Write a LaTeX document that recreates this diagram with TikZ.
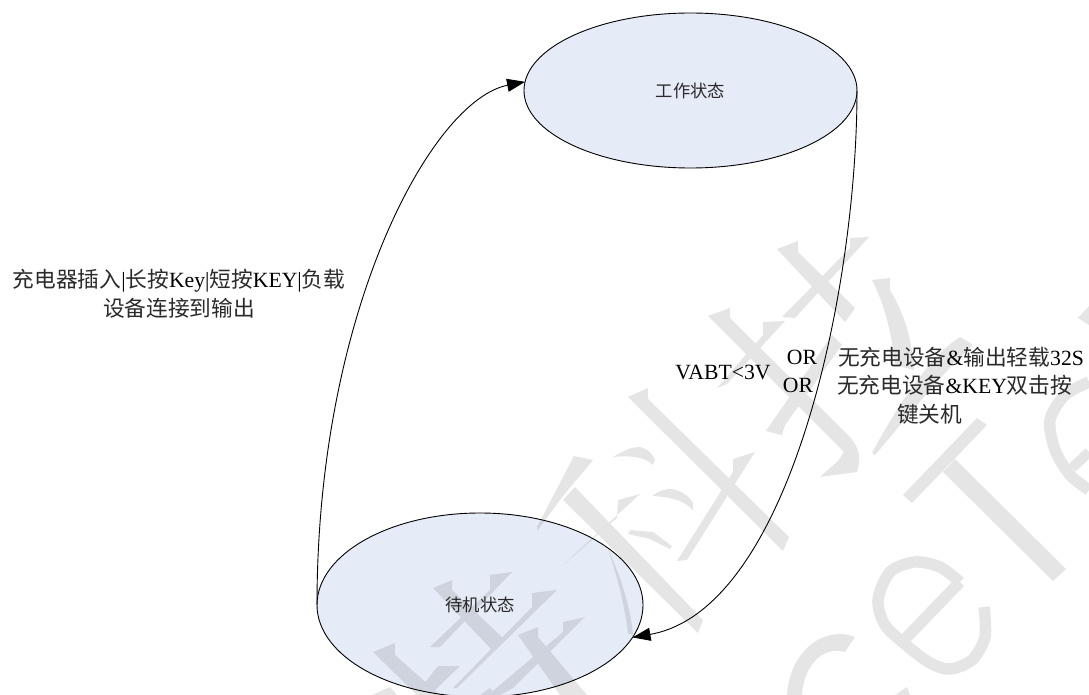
\documentclass[tikz,border=0pt]{standalone}
\usepackage{fontspec}
\setmainfont{Liberation Serif}
\newfontfamily\cjk{Noto Sans CJK SC}
\usetikzlibrary{shapes.geometric,arrows.meta}
\definecolor{statefill}{HTML}{E6ECF7}
\definecolor{cjkink}{HTML}{2A2A2A}
\newcommand{\zh}[1]{{\cjk\color{cjkink}#1}}
\tikzset{
  statenode/.style={ellipse,draw=black,line width=0.9pt,fill=statefill,inner sep=0pt,outer sep=0pt,font=\fontsize{17.3}{20}\selectfont},
  lbl/.style={inner sep=0pt,outer sep=0pt,font=\fontsize{21.7}{29}\selectfont},
  flow/.style={draw=black,line width=0.9pt,-{Triangle[length=18pt,width=13pt]},shorten >=0pt},
  wmthick/.style={draw=black,line width=11.5pt,line cap=butt}
}
\begin{document}
\begin{tikzpicture}[x=1pt,y=-1pt]
\useasboundingbox (0,0) rectangle (1089,695);
\fill[white] (0,0) rectangle (1089,695);
\node[statenode,minimum width=333pt,minimum height=155pt] (work) at (690.5,90.5) {\zh{工作状态}};
\node[statenode,minimum width=326pt,minimum height=184pt] (wait) at (480,605) {\zh{待机状态}};
% watermark
\begin{scope}[transparency group,opacity=0.1]
\fill (574,456)--(593,460)--(563,496)--(537,531)--(537,527)--cycle;
\fill (628,397)--(648,388)--(648,399)--(789,537)--(783,551)--cycle;
\fill (733,459)--(755,452)--(687,560)--(677,561)--(733,472)--cycle;
\fill (613,457) .. controls (625,450) and (632,447) .. (640,447) .. controls (648,449) and (653,454) .. (655,460)--(653,465) .. controls (645,458) and (635,455) .. (613,457)--cycle;
\fill (652,496) .. controls (660,490) and (666,489) .. (672,489) .. controls (682,491) and (690,497) .. (693,503)--(693,510) .. controls (685,502) and (675,497) .. (652,496)--cycle;
\fill (628,534)--(630,530)--(653,532)--(672,546)--(670,549)--(650,539)--cycle;
\fill (575,487)--(703,620)--(698,633)--(563,500)--cycle;
\fill (618,500)--(640,494)--(563,565)--(562,566)--(617,518)--cycle;
\fill (608,549) .. controls (620,575) and (630,605) .. (633,634)--(628,634) .. controls (625,610) and (620,585) .. (608,549)--cycle;
% lower-left glyphs
\fill (433,588)--(452,580)--(452,590)--(505,640)--(492,650)--cycle;
\fill (490,575)--(512,572)--(440,647)--(430,647)--(490,590)--cycle;
\fill (532,593)--(557,590)--(457,688)--(453,688)--(532,607)--cycle;
\fill (563,622)--(585,617)--(513,688)--(500,695)--(488,695)--(563,632)--cycle;
\fill (518,635)--(538,627)--(538,637)--(587,695)--(560,695)--cycle;
\fill (373,652)--(395,643)--(395,655)--(440,695)--(417,695)--cycle;
\fill (438,666)--(460,666)--(430,695)--(415,695)--cycle;
\fill (372,695)--(390,687)--(397,695)--cycle;
\fill (480,695)--(490,688)--(495,695)--cycle;
% upper-right glyphs
\fill (777,249)--(798,241)--(798,252)--(855,308)--(845,322)--cycle;
\fill (850,238)--(869,237)--(795,318)--(782,317)--(850,248)--cycle;
\fill (708,316)--(730,308)--(730,318)--(850,437) .. controls (858,447) and (862,456) .. (857,472)--(820,477)--(838,461)--(844,452)--cycle;
\fill (763,322)--(785,321)--(727,384)--(717,388)--(763,335)--cycle;
\fill (832,335)--(842,345)--(785,425)--(782,435)--(766,431)--cycle;
\fill (872,280)--(890,278)--(890,290) .. controls (905,315) and (912,340) .. (914,370)--(895,365) .. controls (892,335) and (885,305) .. (872,280)--cycle;
\fill (960,337) .. controls (930,355) and (895,410) .. (872,453)--(875,455) .. controls (905,420) and (940,375) .. (973,345)--cycle;
% T
\fill (903,495)--(977,418)--(987,425)--(912,503)--cycle;
\fill (943,472)--(955,459)--(1066,569)--(1053,581)--cycle;
% e
\draw[wmthick] (906,638)--(960,582);
\draw[wmthick] plot[smooth] coordinates {(960,582)(940,567)(915,562)(890,572)(878,600)(885,625)(906,645)(930,663)(950,669)(972,660)(985,637)(984,607)};
% second e
\draw[wmthick,line width=10pt] (1072,468)--(1089,452);
\draw[wmthick] plot[smooth] coordinates {(1089,382)(1065,395)(1050,420)(1055,450)(1070,475)(1089,490)};
\fill (1078,318)--(1089,306)--(1089,325)--cycle;
% c
\fill (855,637) .. controls (825,625) and (790,650) .. (787,695)--(802,695) .. controls (803,670) and (820,645) .. (845,652)--cycle;
\fill (895,695)--(907,687)--(910,695)--cycle;
\end{scope}
\draw[flow] (wait.west) .. controls (317,310) and (432,100) .. (work.177);
\draw[flow] (work.east) .. controls (857,290) and (790,610) .. (wait.-12);
\node[lbl,align=center] (charge) at (179,294) {\zh{充电器插入}|\zh{长按}Key|\zh{短按}KEY|\zh{负载}\\\zh{设备连接到输出}};
\node[lbl] (vabt) at (723,372) {VABT<3V};
\node[lbl] (orone) at (802,357) {OR};
\node[lbl] (ortwo) at (798,385) {OR};
\node[lbl,anchor=west] (noload) at (838,357) {\zh{无充电设备}\&\zh{输出轻载}32S};
\node[lbl,anchor=north west,align=left] (dbl) at (837,375) {\zh{无充电设备}\&KEY\zh{双击按}\\\hspace*{60pt}\zh{键关机}};
\end{tikzpicture}
\end{document}
